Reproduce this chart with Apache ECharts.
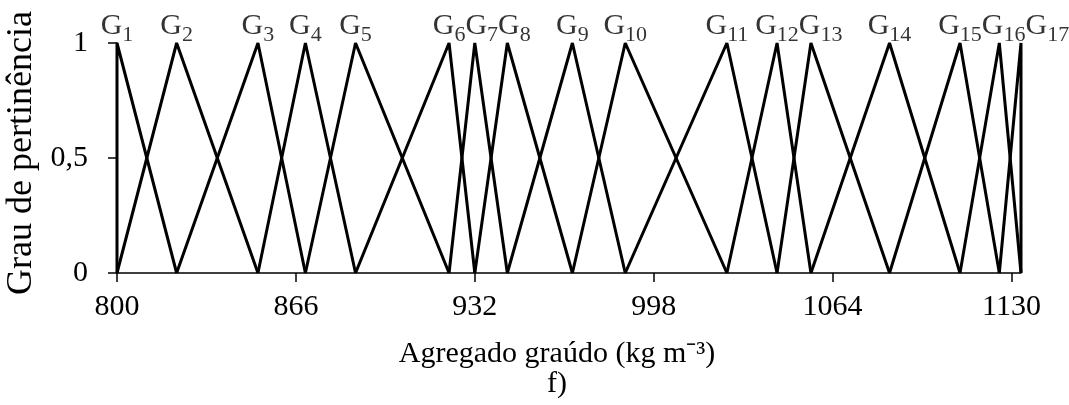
<!DOCTYPE html>
<html>
<head>
<meta charset="utf-8">
<script src="https://cdn.jsdelivr.net/npm/echarts@6/dist/echarts.min.js"></script>
<style>
  html, body { margin: 0; padding: 0; background: #fff; }
  #chart { width: 1069px; height: 405px; }
</style>
</head>
<body>
<div id="chart"></div>
<script>
// Fuzzy sets for coarse aggregate content: triangular membership functions
const setNames = ['G1', 'G2', 'G3', 'G4', 'G5', 'G6', 'G7', 'G8', 'G9', 'G10',
                  'G11', 'G12', 'G13', 'G14', 'G15', 'G16', 'G17'];
// Peak (membership = 1) of each set, kg m-3
const peaks = [800, 822, 852, 869.5, 888, 922.5, 932, 944, 968, 987.5,
               1025, 1043.5, 1056, 1085, 1111, 1125.5, 1133.5];
const xTicks = [800, 866, 932, 998, 1064, 1130];
const yTicks = [0, 0.5, 1];
const xTitle = 'Agregado graúdo (kg m⁻³)';
const yTitle = 'Grau de pertinência';
const panelTag = 'f)';

const FONT = '"Liberation Serif", "Times New Roman", serif';
const INK = '#000';

// Each set rises from the previous peak and falls to the next one;
// the first and last sets close with a vertical edge.
function triangle(i) {
  const left = i > 0 ? peaks[i - 1] : peaks[i];
  const right = i < peaks.length - 1 ? peaks[i + 1] : peaks[i];
  return [[left, 0], [peaks[i], 1], [right, 0]];
}

const lineSeries = setNames.map((name, i) => ({
  name: name,
  type: 'line',
  data: triangle(i),
  symbol: 'none',
  clip: false,
  lineStyle: { color: INK, width: 3 },
  z: 3
}));

// "G" with its index set as a subscript
const richLabel = {
  g: { fontFamily: FONT, fontSize: 30, color: INK, verticalAlign: 'bottom', padding: [0, 0, 5, 0] },
  s: { fontFamily: FONT, fontSize: 22, color: INK, verticalAlign: 'bottom' }
};

function labelSeries(offsets) {
  return {
    id: 'setLabels',
    type: 'scatter',
    symbolSize: 0,
    silent: true,
    clip: false,
    data: peaks.map((p, i) => ({
      value: [p, 1],
      label: { offset: [offsets ? offsets[i] : 0, 3] }
    })),
    label: {
      show: true,
      position: 'top',
      distance: 0,
      color: INK,
      fontFamily: FONT,
      fontSize: 30,
      formatter: (params) => {
        const name = setNames[params.dataIndex];
        return '{g|' + name.charAt(0) + '}{s|' + name.slice(1) + '}';
      },
      rich: richLabel
    },
    z: 4
  };
}

const chart = echarts.init(document.getElementById('chart'), null, { renderer: 'canvas' });

const option = {
  backgroundColor: '#fff',
  animation: false,
  grid: { left: 117, right: 48, top: 43, bottom: 132, outerBoundsMode: 'none', containLabel: false },
  xAxis: {
    type: 'value',
    min: peaks[0],
    max: peaks[peaks.length - 1],
    splitLine: { show: false },
    axisLine: { show: true, lineStyle: { color: INK, width: 1.5 } },
    axisTick: { show: true, customValues: xTicks, length: 9, lineStyle: { color: INK, width: 1.5 } },
    axisLabel: {
      customValues: xTicks,
      margin: 19,
      fontFamily: FONT,
      fontSize: 30,
      color: INK,
      formatter: (v) => String(v)
    },
    name: xTitle + '\n' + panelTag,
    nameLocation: 'middle',
    nameGap: 66,
    nameTextStyle: {
      fontFamily: FONT,
      fontSize: 30,
      lineHeight: 30,
      color: INK,
      padding: [0, 24, 0, 0]
    }
  },
  yAxis: {
    type: 'value',
    min: yTicks[0],
    max: yTicks[yTicks.length - 1],
    interval: 0.5,
    splitLine: { show: false },
    axisLine: { show: true, lineStyle: { color: INK, width: 1.5 } },
    axisTick: { show: true, length: 9, lineStyle: { color: INK, width: 1.5 } },
    axisLabel: {
      margin: 29,
      fontFamily: FONT,
      fontSize: 30,
      color: INK,
      formatter: (v) => String(v).replace('.', ',')
    },
    name: yTitle,
    nameLocation: 'middle',
    nameGap: 74,
    nameRotate: 90,
    nameTextStyle: { fontFamily: FONT, fontSize: 36, color: INK, padding: [0, 0, 0, 10] }
  },
  series: lineSeries.concat([labelSeries(null)])
};

chart.setOption(option);

// Spread the set labels so neighbouring ones do not overlap:
// centre each over its peak, then push right if it would hit the previous one.
const measure = document.createElement('canvas').getContext('2d');
function labelWidth(name) {
  measure.font = '30px ' + FONT;
  let w = measure.measureText(name.charAt(0)).width;
  measure.font = '22px ' + FONT;
  w += measure.measureText(name.slice(1)).width;
  return w;
}
const offsets = [];
let prevRight = -Infinity;
peaks.forEach((p, i) => {
  const px = chart.convertToPixel({ gridIndex: 0 }, [p, 1])[0];
  const w = labelWidth(setNames[i]);
  let left = px - w / 2;
  if (left < prevRight) left = prevRight;
  offsets.push(left + w / 2 - px);
  prevRight = left + w;
});
chart.setOption({ series: [labelSeries(offsets)] });
</script>
</body>
</html>
